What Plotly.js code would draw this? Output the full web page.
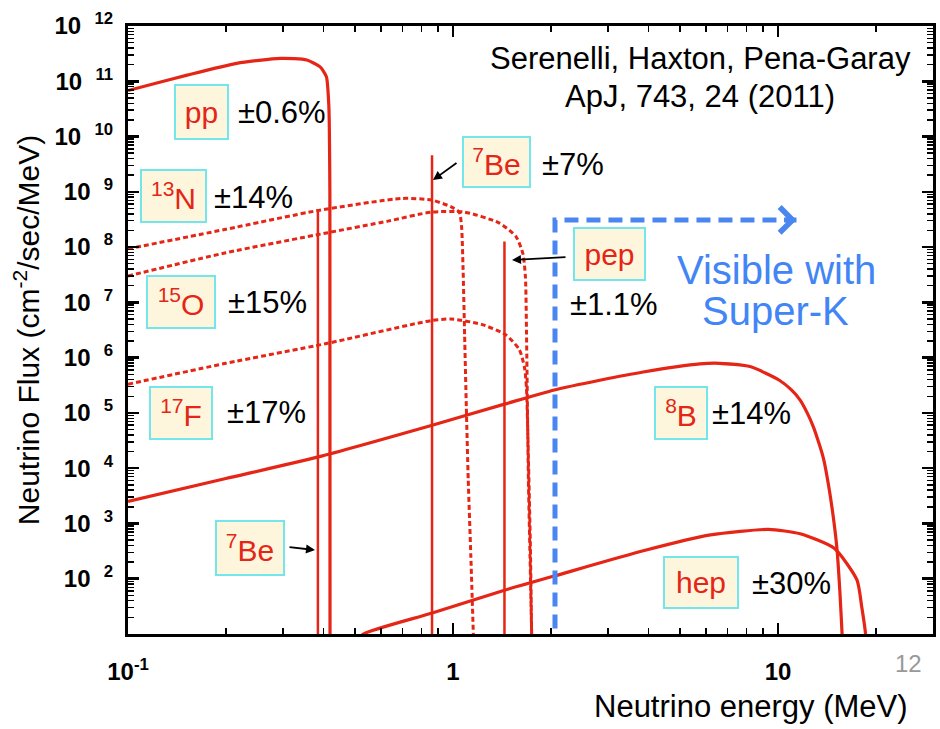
<!DOCTYPE html>
<html>
<head>
<meta charset="utf-8">
<script src="https://cdn.plot.ly/plotly-3.0.1.min.js"></script>
<style>
html,body{margin:0;padding:0;background:#fff;}
#chart{width:940px;height:729px;}
</style>
</head>
<body>
<div id="chart"></div>
<script>
// ---------------- DATA ----------------
// energies in MeV, flux in cm^-2 s^-1 MeV^-1
const pp_E    = [0.1, 0.126, 0.152, 0.216, 0.294, 0.355, 0.39, 0.40, 0.408, 0.415, 0.418, 0.4185];
const pp_flux = [6.8e10, 9.7e10, 1.29e11, 2.11e11, 2.6e11, 2.43e11, 1.82e11, 1.5e11, 1.2e11, 3.5e10, 1e9, 1];

const B8_E    = [0.1, 0.2, 0.385, 0.863, 1.44, 2.05, 2.83, 3.85, 5.75, 6.6, 8.2, 10.1, 11.0, 11.7, 12.3, 12.85, 13.4, 13.8, 14.3, 14.8, 15.2, 15.5, 15.75, 15.9];
const B8_flux = [2.5e3, 6.5e3, 1.6e4, 6.0e4, 1.44e5, 2.6e5, 3.9e5, 5.5e5, 7.7e5, 7.9e5, 6.9e5, 3.9e5, 2.6e5, 1.7e5, 1.0e5, 5.6e4, 2.7e4, 1.5e4, 5.0e3, 1.3e3, 330, 60, 10, 3];

const hep_E    = [0.5, 0.53, 0.863, 1.44, 2.05, 3.85, 6.2, 9.35, 11.7, 14.9, 17.5, 18.1, 18.6, 18.8];
const hep_flux = [7, 10, 24, 62, 112, 320, 620, 780, 650, 355, 95, 31, 10, 3];

const N13_E    = [0.1, 0.2, 0.385, 0.698, 0.859, 0.984, 1.045, 1.062, 1.074, 1.086, 1.099, 1.114, 1.135, 1.155];
const N13_flux = [9.3e7, 2.1e8, 4.6e8, 7.6e8, 7.1e8, 5.4e8, 4.3e8, 2.5e8, 4.0e7, 2.5e6, 1.3e5, 6.2e3, 250, 10];

const O15_E    = [0.1, 0.2, 0.408, 0.631, 0.859, 1.084, 1.384, 1.563, 1.641, 1.671, 1.683, 1.694, 1.706, 1.726, 1.746];
const O15_flux = [3.0e7, 7.9e7, 1.8e8, 2.95e8, 4.3e8, 4.3e8, 2.75e8, 1.55e8, 7.6e7, 2.8e7, 3.2e6, 1.6e5, 6.2e3, 250, 10];

const F17_E    = [0.1, 0.2, 0.408, 0.859, 0.984, 1.224, 1.452, 1.6, 1.66, 1.683, 1.706, 1.73, 1.746];
const F17_flux = [3.3e5, 7.9e5, 1.8e6, 4.7e6, 5.0e6, 4.0e6, 2.6e6, 1.4e6, 6.6e5, 2.8e5, 1.6e4, 400, 10];

// mono-energetic lines: energy and flux at the top of the line
const line_names = ['7Be (0.384)', '7Be (0.862)', 'pep'];
const line_E     = [0.384, 0.862, 1.44];
const line_flux  = [4.9e8, 4.6e9, 1.26e8];

// Super-K visibility threshold marker
const superK_E    = [2.06, 2.06, 11.4];
const superK_flux = [12.6, 3.1e8, 3.1e8];

// axis ticks
const xTickVals = [0.1, 1, 10];
const xTickText = ['10<sup>-1</sup>', '1', '10'];
const yExponents = [2,3,4,5,6,7,8,9,10,11,12];

// text labels
const srcLabels = ['<sup>7</sup>Be', 'pp', '<sup>13</sup>N', '<sup>15</sup>O', '<sup>17</sup>F', '<sup>7</sup>Be', 'pep', '<sup>8</sup>B', 'hep'];
const errLabels = ['±7%', '±0.6%', '±14%', '±15%', '±17%', '', '±1.1%', '±14%', '±30%'];

// ---------------- STYLE / LAYOUT ----------------
const RED = '#e52515';
const BLUE = '#4a86f0';
const FONT = 'Liberation Sans, Arial, Helvetica, sans-serif';
const L = 128, R = 933, T = 26, B = 634;
const px = x => (x - L) / (R - L);
const py = y => (B - y) / (B - T);

const traces = [];
function curve(E, F, dash, w) {
  traces.push({x: E, y: F, type: 'scatter', mode: 'lines',
    line: {color: RED, width: w, dash: dash, shape: 'spline', smoothing: 0.6},
    hoverinfo: 'skip', showlegend: false});
}
curve(pp_E, pp_flux, 'solid', 3.2);
curve(B8_E, B8_flux, 'solid', 3.2);
curve(hep_E, hep_flux, 'solid', 3.2);
curve(N13_E, N13_flux, '5px,3px', 3);
curve(O15_E, O15_flux, '5px,3px', 3);
curve(F17_E, F17_flux, '5px,3px', 3);
for (let i = 0; i < line_E.length; i++) {
  traces.push({x: [line_E[i], line_E[i]], y: [1, line_flux[i]], type: 'scatter', mode: 'lines',
    name: line_names[i], line: {color: RED, width: 2.5}, hoverinfo: 'skip', showlegend: false});
}
traces.push({x: superK_E, y: superK_flux, type: 'scatter', mode: 'lines',
  line: {color: BLUE, width: 5, dash: '14px,8px'}, hoverinfo: 'skip', showlegend: false});

// minor ticks
const xMinor = [], yMinor = [];
for (let d = -1; d <= 1; d++) for (let m = 2; m <= 9; m++) xMinor.push(m * Math.pow(10, d));
for (let d = 1; d <= 11; d++) for (let m = 2; m <= 9; m++) yMinor.push(m * Math.pow(10, d));

const axisCommon = {
  type: 'log', showline: true, linewidth: 3, linecolor: 'black', mirror: 'allticks',
  ticks: 'inside', ticklen: 11, tickwidth: 2.5, tickcolor: 'black',
  showgrid: false, zeroline: false,
  tickfont: {family: FONT, size: 24, color: 'black', weight: 'bold'},
};

// label boxes: [centerX, centerY, w, h] in page pixels
const boxes = [
  [496.5, 162, 69, 52],
  [201.5, 112, 55, 56],
  [173.5, 196, 67, 54],
  [181, 302, 70, 54],
  [181, 413, 64, 54],
  [250, 548, 70, 56],
  [609.5, 254, 73, 54],
  [681, 413, 54, 54],
  [701, 582.5, 76, 53],
];
const errPos = [[540,165],[236,112],[212,197],[226,302],[225,412],[0,0],[568,304],[710,413],[750,583]];

const ann = [];
srcLabels.forEach((t, i) => {
  const b = boxes[i];
  ann.push({xref: 'paper', yref: 'paper', x: px(b[0]), y: py(b[1]), xanchor: 'center', yanchor: 'middle',
    text: t, showarrow: false, width: b[2] - 4, height: b[3] - 4,
    bgcolor: '#fdf6dc', bordercolor: '#72e6ea', borderwidth: 2, borderpad: 0,
    font: {family: FONT, size: 30, color: RED}});
  if (errLabels[i]) {
    ann.push({xref: 'paper', yref: 'paper', x: px(errPos[i][0]), y: py(errPos[i][1]), xanchor: 'left', yanchor: 'middle',
      text: errLabels[i], showarrow: false, font: {family: FONT, size: 31, color: 'black'}});
  }
});
// pointer arrows [tipX, tipY, ax, ay]
[[433, 180, 25, -18], [512, 260, 55, -3], [315, 550, -27, -3]].forEach(a => {
  ann.push({xref: 'paper', yref: 'paper', x: px(a[0]), y: py(a[1]), ax: a[2], ay: a[3], text: '',
    showarrow: true, arrowhead: 2, arrowsize: 1, arrowwidth: 1.8, arrowcolor: 'black'});
});
// Super-K arrow head
ann.push({xref: 'x', yref: 'y', x: Math.log10(superK_E[2]), y: Math.log10(superK_flux[2]), ax: -14, ay: 0, text: '',
  showarrow: true, arrowhead: 4, arrowsize: 1.1, arrowwidth: 4.5, arrowcolor: BLUE});
// texts
ann.push({xref: 'paper', yref: 'paper', x: px(700), y: py(58), xanchor: 'center', yanchor: 'middle', showarrow: false,
  text: 'Serenelli, Haxton, Pena-Garay', font: {family: FONT, size: 31, color: 'black'}});
ann.push({xref: 'paper', yref: 'paper', x: px(700), y: py(96), xanchor: 'center', yanchor: 'middle', showarrow: false,
  text: 'ApJ, 743, 24 (2011)', font: {family: FONT, size: 31, color: 'black'}});
ann.push({xref: 'paper', yref: 'paper', x: px(776), y: py(270), xanchor: 'center', yanchor: 'middle', showarrow: false,
  text: 'Visible with', font: {family: FONT, size: 40, color: '#4285f4'}});
ann.push({xref: 'paper', yref: 'paper', x: px(775), y: py(311), xanchor: 'center', yanchor: 'middle', showarrow: false,
  text: 'Super-K', font: {family: FONT, size: 40, color: '#4285f4'}});
ann.push({xref: 'paper', yref: 'paper', x: px(910), y: py(706), xanchor: 'right', yanchor: 'middle', showarrow: false,
  text: 'Neutrino energy (MeV)', font: {family: FONT, size: 31, color: 'black'}});
ann.push({xref: 'paper', yref: 'paper', x: px(908), y: py(663), xanchor: 'center', yanchor: 'middle', showarrow: false,
  text: '12', font: {family: FONT, size: 24, color: '#999999'}});

const layout = {
  width: 940, height: 729,
  margin: {l: L, r: 940 - R, t: T, b: 729 - B, pad: 0},
  paper_bgcolor: 'white', plot_bgcolor: 'white',
  showlegend: false,
  xaxis: Object.assign({}, axisCommon, {
    range: [-1, 1.477], tickmode: 'array', tickvals: xTickVals, ticktext: xTickText,
    ticklabelstandoff: 14,
    minor: {tickmode: 'array', tickvals: xMinor, ticks: 'inside', ticklen: 6, tickwidth: 1.5, tickcolor: 'black', showgrid: false}
  }),
  yaxis: Object.assign({}, axisCommon, {
    range: [1, 12], tickmode: 'array',
    tickvals: yExponents.map(e => Math.pow(10, e)),
    ticktext: yExponents.map(e => '10\u00a0\u00a0<sup>' + e + '</sup>'),
    ticklabelstandoff: 7,
    minor: {tickmode: 'array', tickvals: yMinor, ticks: 'inside', ticklen: 6, tickwidth: 1.5, tickcolor: 'black', showgrid: false},
    title: {text: 'Neutrino Flux (cm<sup>-2</sup>/sec/MeV)', font: {family: FONT, size: 30, color: 'black'}, standoff: 6}
  }),
  annotations: ann
};

Plotly.newPlot('chart', traces, layout, {displayModeBar: false, staticPlot: true});
</script>
</body>
</html>
